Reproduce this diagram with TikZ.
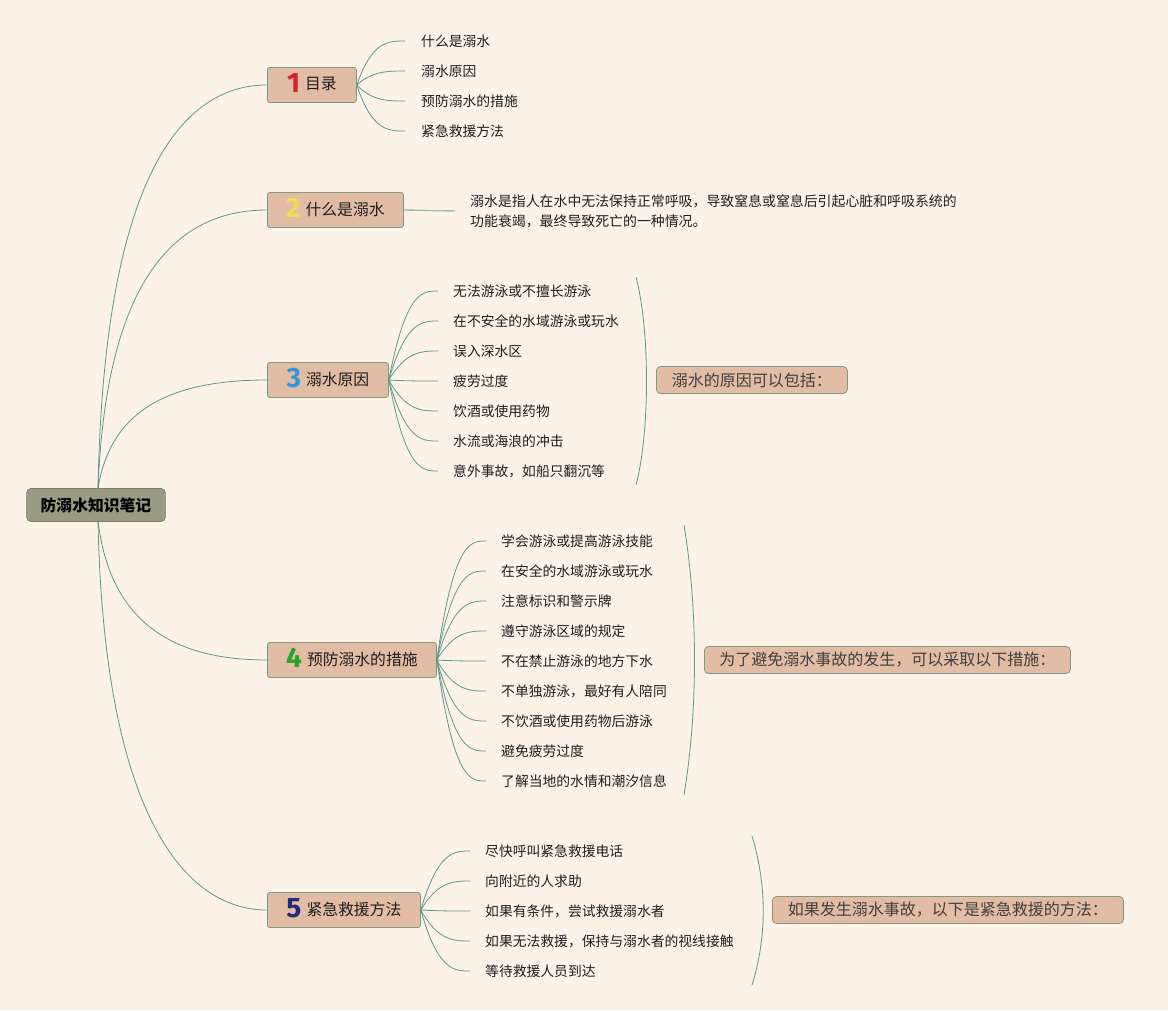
\documentclass[tikz,border=0pt]{standalone}
\usepackage{fontspec}
\setmainfont{Noto Sans CJK SC}
\newfontfamily\numfont{Fira Sans}
\definecolor{bg}{HTML}{FDF2E8}
\definecolor{boxfill}{HTML}{E2BCA5}
\definecolor{boxline}{HTML}{7F9A84}
\definecolor{rootfill}{HTML}{9A9B83}
\definecolor{conncol}{HTML}{5E9A86}
\definecolor{conn2}{HTML}{9CC0A2}
\definecolor{txt}{HTML}{1E1E1E}
\definecolor{numA}{HTML}{D91F2E}
\definecolor{numB}{HTML}{F0DC4E}
\definecolor{numC}{HTML}{2F97D9}
\definecolor{numD}{HTML}{28A22B}
\definecolor{numE}{HTML}{1F2B7C}
\newcommand{\bnum}[2]{\raisebox{-2.5pt}{\smash{\numfont\bfseries\fontsize{28}{28}\selectfont\color{#1}#2}}\hspace{5pt}}
\begin{document}
\begin{tikzpicture}[x=1pt,y=-1pt,
  rootbox/.style={draw=rootfill!80!black, fill=rootfill, rounded corners=4pt, line width=0.6pt,
    minimum height=33pt, inner xsep=14pt, inner ysep=0pt, font=\bfseries\fontsize{15.8}{18}\selectfont, text=black},
  branchbox/.style={draw=boxline, fill=boxfill, rounded corners=2.5pt, line width=0.8pt,
    minimum height=35pt, inner xsep=18pt, inner ysep=0pt, anchor=west, font=\fontsize{15.8}{18}\selectfont, text=txt},
  sumbox/.style={draw=boxline, fill=boxfill, rounded corners=4pt, line width=0.8pt,
    minimum height=27pt, inner xsep=15pt, inner ysep=0pt, anchor=west, font=\fontsize{16}{18}\selectfont, text=txt!85!white},
  leaf/.style={anchor=west, inner ysep=2pt, font=\fontsize{13.8}{20}\selectfont, text=txt},
  conn/.style={draw=conncol, line width=0.8pt},
]
\fill[bg] (0,0) rectangle (1168,1010);
\useasboundingbox (0,0) rectangle (1168,1010);

% root
\node[rootbox] (root) at (96,505) {防溺水知识笔记};
\coordinate (rt) at (98,489);
\coordinate (rb) at (98,521);

% branches
\node[branchbox, minimum width=89pt] (b1) at (267,85) {\bnum{numA}{1}目录};
\node[branchbox, minimum width=136pt] (b2) at (267,210) {\bnum{numB}{2}什么是溺水};
\node[branchbox, minimum width=121pt] (b3) at (267,380) {\bnum{numC}{3}溺水原因};
\node[branchbox, minimum width=169pt] (b4) at (267,660) {\bnum{numD}{4}预防溺水的措施};
\node[branchbox, minimum width=153pt] (b5) at (267,910) {\bnum{numE}{5}紧急救援方法};

% root connectors
\draw[conn] (rt) .. controls (104,170) and (185,85) .. (b1.west);
\draw[conn] (rt) .. controls (106,280) and (175,210) .. (b2.west);
\draw[conn] (rt) .. controls (110,410) and (170,380) .. (b3.west);
\draw[conn] (rb) .. controls (110,620) and (170,660) .. (b4.west);
\draw[conn] (rb) .. controls (104,815) and (185,910) .. (b5.west);

% branch 1 leaves
\foreach \i/\y/\t in {1/41/什么是溺水, 2/71/溺水原因, 3/101/预防溺水的措施, 4/131/紧急救援方法}{
  \node[leaf, inner xsep=16pt] (a\i) at (405,\y) {\t};
  \draw[conn] (b1.east) .. controls (372,\y) and (388,\y) .. (a\i.west);
}

% branch 2 detail
\node[leaf, inner xsep=15pt, align=left, font=\fontsize{13.9}{20}\selectfont] (d2) at (455,211)
  {溺水是指人在水中无法保持正常呼吸，导致窒息或窒息后引起心脏和呼吸系统的\\功能衰竭，最终导致死亡的一种情况。};
\draw[draw=conn2, line width=1.4pt] (b2.east) -- (d2.west);

% branch 3 leaves
\foreach \i/\y/\t in {1/291/无法游泳或不擅长游泳, 2/321/在不安全的水域游泳或玩水, 3/351/误入深水区, 4/381/疲劳过度, 5/411/饮酒或使用药物, 6/441/水流或海浪的冲击, 7/471/意外事故，如船只翻沉等}{
  \node[leaf, inner xsep=15pt] (c\i) at (438,\y) {\t};
  \draw[conn] (b3.east) .. controls (406,\y) and (422,\y) .. (c\i.west);
}
\coordinate (k3a) at (636,277);
\coordinate (k3b) at (636,485);
\draw[conn] (k3a) .. controls (650,330) and (650,432) .. (k3b);
\node[sumbox, minimum width=191pt] (s3) at (656,380) {溺水的原因可以包括：};

% branch 4 leaves
\foreach \i/\y/\t in {1/541/学会游泳或提高游泳技能, 2/571/在安全的水域游泳或玩水, 3/601/注意标识和警示牌, 4/631/遵守游泳区域的规定, 5/661/不在禁止游泳的地方下水, 6/691/不单独游泳，最好有人陪同, 7/721/不饮酒或使用药物后游泳, 8/751/避免疲劳过度, 9/781/了解当地的水情和潮汐信息}{
  \node[leaf, inner xsep=15pt] (e\i) at (486,\y) {\t};
  \draw[conn] (b4.east) .. controls (454,\y) and (470,\y) .. (e\i.west);
}
\coordinate (k4a) at (684,525);
\coordinate (k4b) at (684,795);
\draw[conn] (k4a) .. controls (698,610) and (698,710) .. (k4b);
\node[sumbox, minimum width=366pt] (s4) at (704,660) {为了避免溺水事故的发生，可以采取以下措施：};

% branch 5 leaves
\foreach \i/\y/\t in {1/851/尽快呼叫紧急救援电话, 2/881/向附近的人求助, 3/911/如果有条件，尝试救援溺水者, 4/941/如果无法救援，保持与溺水者的视线接触, 5/971/等待救援人员到达}{
  \node[leaf, inner xsep=15pt] (f\i) at (470,\y) {\t};
  \draw[conn] (b5.east) .. controls (438,\y) and (454,\y) .. (f\i.west);
}
\coordinate (k5a) at (752,836);
\coordinate (k5b) at (752,985);
\draw[conn] (k5a) .. controls (767,885) and (767,937) .. (k5b);
\node[sumbox, minimum width=351pt] (s5) at (772,910) {如果发生溺水事故，以下是紧急救援的方法：};
\end{tikzpicture}
\end{document}
